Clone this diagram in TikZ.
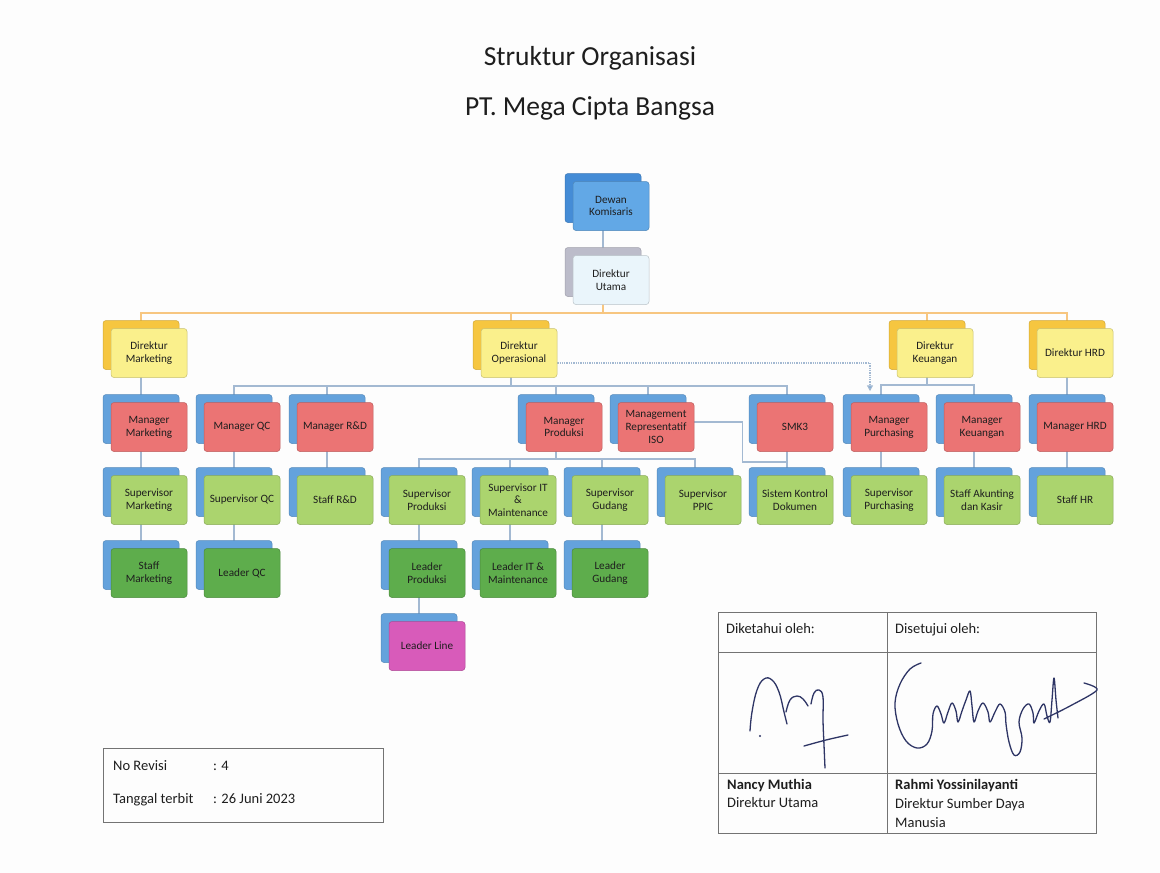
\documentclass[tikz,border=0pt]{standalone}
\usepackage{fontspec}
\setmainfont{Carlito}
\usetikzlibrary{arrows.meta,backgrounds}
\definecolor{pagecol}{HTML}{FDFDFD}
\definecolor{textcol}{HTML}{1E1E1E}
\definecolor{dewanfr}{HTML}{62A8E6}
\definecolor{dewanbk}{HTML}{458CD6}
\definecolor{utamafr}{HTML}{EAF5FB}
\definecolor{utamabk}{HTML}{BCBCCA}
\definecolor{dirfr}{HTML}{FAF08C}
\definecolor{dirbk}{HTML}{F6C640}
\definecolor{unitbk}{HTML}{64A2DC}
\definecolor{mgrfr}{HTML}{EB7474}
\definecolor{supfr}{HTML}{ABD46E}
\definecolor{leadfr}{HTML}{5EAD4C}
\definecolor{linefr}{HTML}{D85BBA}
\definecolor{orangeline}{HTML}{F7C680}
\definecolor{blueline}{HTML}{A3B9D2}
\definecolor{pen}{HTML}{2E3565}
\tikzset{
orgcell/.style={rounded corners=3pt, minimum width=76pt, minimum height=49pt,
    inner sep=1pt, align=center, text=textcol,
    font=\fontsize{11.2}{12.8}\selectfont},
backbox/.style={orgcell, fill=#1, draw=#1!85!black, line width=.5pt},
frontbox/.style={orgcell, fill=#1, draw=#1!80!black, line width=.5pt},
dirline/.style={draw=orangeline, line width=1.6pt},
subline/.style={draw=blueline, line width=1.4pt},
dotline/.style={draw=blueline, line width=1.3pt, densely dotted,
    -{Triangle[length=6pt,width=6pt,fill=unitbk]}},
tabline/.style={draw=black!55, line width=.9pt},
tabtext/.style={anchor=base west, inner sep=0pt, text=textcol,
    font=\fontsize{14.5}{17}\selectfont},
sign/.style={draw=pen, line width=1.3pt, line cap=round, line join=round}
}
\newcommand{\orgbox}[6]{%
  \node[backbox=#4] (#1-b) at (#2-8,#3-8) {};
  \node[frontbox=#5] (#1) at (#2,#3) {#6};}

\begin{document}
\begin{tikzpicture}[x=1pt,y=-1pt]
\useasboundingbox (0,0) rectangle (1160,873);
\node[font=\fontsize{27.5}{32}\selectfont, text=textcol] (title) at (590,58) {Struktur Organisasi};
\node[font=\fontsize{27.5}{32}\selectfont, text=textcol] (company) at (590,108) {PT. Mega Cipta Bangsa};

\orgbox{dk}{611}{206}{dewanbk}{dewanfr}{Dewan\\Komisaris}
\orgbox{du}{611}{280}{utamabk}{utamafr}{Direktur\\Utama}
\orgbox{dm}{149}{353}{dirbk}{dirfr}{Direktur\\Marketing}
\orgbox{dop}{519}{353}{dirbk}{dirfr}{Direktur\\Operasional}
\orgbox{dkeu}{935}{353}{dirbk}{dirfr}{Direktur\\Keuangan}
\orgbox{dhrd}{1075}{353}{dirbk}{dirfr}{Direktur HRD}

\orgbox{mm}{149}{427}{unitbk}{mgrfr}{Manager\\Marketing}
\orgbox{mqc}{242}{427}{unitbk}{mgrfr}{Manager QC}
\orgbox{mrd}{335}{427}{unitbk}{mgrfr}{Manager R\&D}
\orgbox{mpr}{564}{427}{unitbk}{mgrfr}{Manager\\Produksi}
\orgbox{mri}{656}{427}{unitbk}{mgrfr}{Management\\Representatif\\ISO}
\orgbox{smk}{795}{427}{unitbk}{mgrfr}{SMK3}
\orgbox{mpu}{889}{427}{unitbk}{mgrfr}{Manager\\Purchasing}
\orgbox{mkeu}{982}{427}{unitbk}{mgrfr}{Manager\\Keuangan}
\orgbox{mhrd}{1075}{427}{unitbk}{mgrfr}{Manager HRD}

\orgbox{sm}{149}{500}{unitbk}{supfr}{Supervisor\\Marketing}
\orgbox{sqc}{242}{500}{unitbk}{supfr}{Supervisor QC}
\orgbox{srd}{335}{500}{unitbk}{supfr}{Staff R\&D}
\orgbox{spr}{427}{500}{unitbk}{supfr}{Supervisor\\Produksi}
\orgbox{sit}{518}{500}{unitbk}{supfr}{Supervisor IT\\\&\\Maintenance}
\orgbox{sgd}{610}{500}{unitbk}{supfr}{Supervisor\\Gudang}
\orgbox{sppic}{703}{500}{unitbk}{supfr}{Supervisor\\PPIC}
\orgbox{skd}{795}{500}{unitbk}{supfr}{Sistem Kontrol\\Dokumen}
\orgbox{spu}{889}{500}{unitbk}{supfr}{Supervisor\\Purchasing}
\orgbox{sak}{982}{500}{unitbk}{supfr}{Staff Akunting\\dan Kasir}
\orgbox{shr}{1075}{500}{unitbk}{supfr}{Staff HR}

\orgbox{stm}{149}{573}{unitbk}{leadfr}{Staff\\Marketing}
\orgbox{lqc}{242}{573}{unitbk}{leadfr}{Leader QC}
\orgbox{lpr}{427}{573}{unitbk}{leadfr}{Leader\\Produksi}
\orgbox{lit}{518}{573}{unitbk}{leadfr}{Leader IT \&\\Maintenance}
\orgbox{lgd}{610}{573}{unitbk}{leadfr}{Leader\\Gudang}
\orgbox{ll}{427}{646}{unitbk}{linefr}{Leader Line}

\coordinate (dirbus) at (0,313);
\coordinate (opbus) at (0,386);
\coordinate (keubus) at (0,385);
\coordinate (prbus) at (0,459);

\begin{scope}[on background layer]
\fill[pagecol] (0,0) rectangle (1160,873);
\draw[subline] (dk-b.center) -- (du-b.center);
\foreach \c in {dm,dop,dkeu,dhrd}
  \draw[dirline] (du-b.center) -- (du-b.center |- dirbus) -| (\c-b.center);
\foreach \c in {mqc,mrd,mpr,mri,smk}
  \draw[subline] (dop-b.center) -- (dop-b.center |- opbus) -| (\c-b.center);
\foreach \c in {mpu,mkeu}
  \draw[subline] (dkeu-b.center) -- (dkeu-b.center |- keubus) -| (\c-b.center);
\foreach \c in {spr,sit,sgd,sppic}
  \draw[subline] (mpr-b.center) -- (mpr-b.center |- prbus) -| (\c-b.center);
\foreach \a/\b in {dm/mm,mm/sm,sm/stm,mqc/sqc,sqc/lqc,mrd/srd,spr/lpr,lpr/ll,
    sit/lit,sgd/lgd,smk/skd,mpu/spu,mkeu/sak,dhrd/mhrd,mhrd/shr}
  \draw[subline] (\a-b.center) -- (\b-b.center);
\draw[subline] ([yshift=5pt]mri.east) -- ++(48,0) -- ++(0,40) -| (skd-b.center);
\draw[dotline] ([yshift=-10pt]dop.east) -| ([xshift=-11pt,yshift=3pt]mpu-b.north);
\end{scope}

\draw[tabline] (103,748) rectangle (383,822);
\node[tabtext] (rev) at (113,770) {No Revisi};
\node[tabtext] (revno) at (213,770) {: 4};
\node[tabtext] (date) at (113,803) {Tanggal terbit};
\node[tabtext] (dateval) at (213,803) {: 26 Juni 2023};

\draw[tabline] (718,612) rectangle (1096,833);
\draw[tabline] (718,652) -- (1096,652);
\draw[tabline] (718,773) -- (1096,773);
\draw[tabline] (887,612) -- (887,833);
\node[tabtext] (known) at (726,633) {Diketahui oleh:};
\node[tabtext] (agreed) at (895,633) {Disetujui oleh:};
\node[tabtext, font=\fontsize{14.5}{17}\selectfont\bfseries] (nm1) at (727,789) {Nancy Muthia};
\node[tabtext] (jb1) at (727,807) {Direktur Utama};
\node[tabtext, font=\fontsize{14.5}{17}\selectfont\bfseries] (nm2) at (895,789) {Rahmi Yossinilayanti};
\node[tabtext] (jb2) at (895,808) {Direktur Sumber Daya};
\node[tabtext] (jb3) at (895,827) {Manusia};

\draw[sign] plot[smooth, tension=.7] coordinates {(750,731) (752,712) (757,690) (764,679) (772,680) (779,692) (784,712) (787,724)};
\draw[sign] plot[smooth, tension=.7] coordinates {(786,712) (790,700) (797,696) (803,699) (808,706)};
\draw[sign] plot[smooth, tension=.7] coordinates {(811,704) (814,693) (819,690) (823,697) (823,720) (824,745) (825,768)};
\draw[sign] plot[smooth, tension=.6] coordinates {(804,746) (826,740) (848,735)};
\fill[pen] (760,736) circle (1.2pt);
\draw[sign] plot[smooth, tension=.6] coordinates {(921,663) (910,669) (900,684) (895,703) (898,724) (906,741) (917,748) (927,744) (932,731) (933,714)
  (937,706) (941,714) (944,723) (948,712) (952,703) (956,711) (958,722) (962,711) (966,700) (970,691) (972,706) (974,722)
  (978,711) (983,703) (988,712) (990,722) (995,712) (1000,704) (1005,712) (1006,724) (1009,742) (1014,755) (1020,752)
  (1022,738) (1019,722) (1023,709) (1029,704) (1033,713) (1034,723) (1039,711) (1044,704) (1047,716) (1050,722)
  (1052,700) (1054,678) (1056,700) (1058,718)};
\draw[sign] plot[smooth, tension=.5] coordinates {(1044,719) (1070,706) (1097,690) (1084,683)};
\end{tikzpicture}
\end{document}
